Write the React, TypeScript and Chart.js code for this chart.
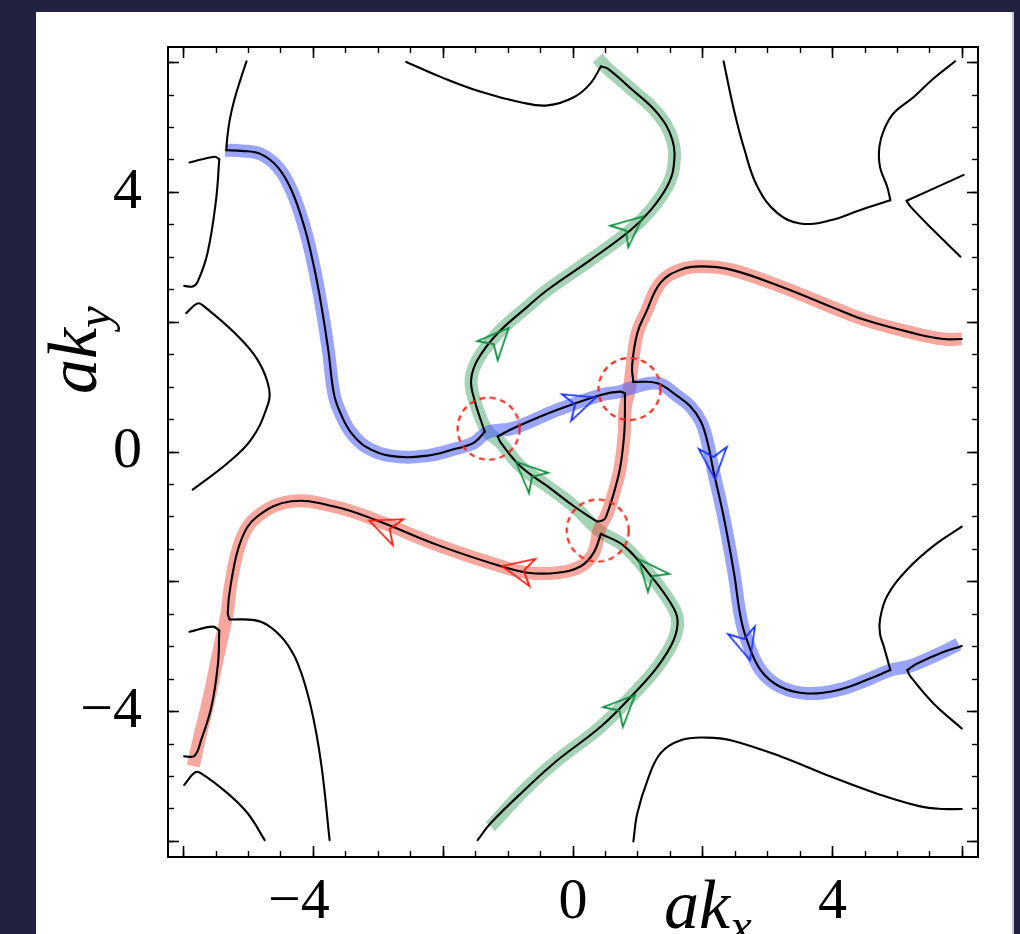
import React, { useEffect, useRef } from 'react';
import { Chart, registerables } from 'chart.js';

Chart.register(...registerables);

type P = [number, number];

// ---- axes ----
const AXIS_MIN = -6.24;
const AXIS_MAX = 6.24;
const MAJOR_TICKS = [-6, -4, -2, 0, 2, 4, 6];
const MINOR_TICKS = [-6, -5.5, -5, -4.5, -4, -3.5, -3, -2.5, -2, -1.5, -1, -0.5, 0, 0.5, 1, 1.5, 2, 2.5, 3, 3.5, 4, 4.5, 5, 5.5, 6];
const LABELED_TICKS = [-4, 0, 4];

// ---- highlighted paths ----
const BLUE_PATH: P[] = [[-5.36,4.65],[-5.11,4.64],[-4.81,4.59],[-4.55,4.39],[-4.34,4.04],[-4.14,3.47],[-3.99,2.85],[-3.88,2.27],[-3.77,1.57],[-3.68,0.88],[-3.57,0.57],[-3.42,0.30],[-3.19,0.08],[-2.81,-0.06],[-2.27,-0.06],[-1.81,0.05],[-1.53,0.14],[-1.32,0.30],[-0.91,0.37],[-0.24,0.65],[0.43,0.88],[0.73,0.93],[0.87,0.98],[1.30,1.06],[1.61,0.86],[1.81,0.70],[1.97,0.47],[2.07,0.16],[2.17,-0.32],[2.32,-0.99],[2.48,-1.86],[2.58,-2.53],[2.68,-2.90],[2.89,-3.36],[3.20,-3.62],[3.61,-3.72],[4.07,-3.67],[4.53,-3.51],[4.89,-3.36],[5.15,-3.31],[5.30,-3.26],[5.66,-3.10],[5.94,-2.96]];
const RED_PATH: P[] = [[5.99,1.74],[5.71,1.74],[5.25,1.83],[4.48,2.04],[3.97,2.24],[3.20,2.55],[2.43,2.81],[1.97,2.86],[1.66,2.81],[1.35,2.61],[1.12,2.14],[0.99,1.83],[0.91,1.32],[0.87,0.98],[0.80,0.65],[0.79,0.29],[0.73,-0.22],[0.63,-0.63],[0.53,-0.94],[0.40,-1.21],[0.32,-1.55],[0.12,-1.76],[-0.24,-1.86],[-0.70,-1.86],[-1.11,-1.76],[-2.04,-1.45],[-3.06,-1.04],[-3.68,-0.84],[-4.34,-0.76],[-4.86,-0.99],[-5.11,-1.35],[-5.27,-2.02],[-5.33,-2.49],[-5.45,-3.04],[-5.61,-3.81],[-5.76,-4.43],[-5.85,-4.84]];
const GREEN_PATH: P[] = [[-1.27,-5.77],[-0.75,-5.21],[-0.24,-4.75],[0.43,-4.23],[0.94,-3.72],[1.30,-3.31],[1.55,-2.90],[1.61,-2.58],[1.50,-2.32],[1.20,-1.91],[0.79,-1.45],[0.40,-1.21],[0.02,-0.84],[-0.39,-0.53],[-0.81,-0.22],[-1.11,0.14],[-1.32,0.32],[-1.52,0.81],[-1.57,1.11],[-1.47,1.42],[-1.16,1.83],[-0.70,2.24],[-0.39,2.50],[0.27,2.96],[0.89,3.42],[1.20,3.73],[1.45,4.09],[1.55,4.39],[1.53,4.81],[1.30,5.22],[0.89,5.60],[0.53,5.91],[0.38,6.07]];

// ---- black contour segments ----
const SEG_A: P[] = [[-5.03,6.02],[-5.11,5.78],[-5.22,5.42],[-5.29,5.11],[-5.33,4.81],[-5.34,4.65]];
const SEG_BLUE_LEFT: P[] = [[-5.34,4.65],[-5.11,4.64],[-4.81,4.59],[-4.55,4.39],[-4.34,4.04],[-4.14,3.47],[-3.99,2.85],[-3.88,2.27],[-3.77,1.57],[-3.68,0.88],[-3.57,0.57],[-3.42,0.30],[-3.19,0.08],[-2.81,-0.06],[-2.27,-0.06],[-1.81,0.05],[-1.53,0.14],[-1.36,0.31]];
const SEG_GREEN_UP: P[] = [[-1.36,0.31],[-1.52,0.81],[-1.57,1.11],[-1.47,1.42],[-1.16,1.83],[-0.70,2.24],[-0.39,2.50],[0.27,2.96],[0.89,3.42],[1.20,3.73],[1.45,4.09],[1.55,4.39],[1.53,4.81],[1.30,5.22],[0.89,5.60],[0.53,5.91],[0.43,5.94]];
const SEG_D: P[] = [[0.43,5.94],[0.27,5.68],[0.02,5.47],[-0.39,5.34],[-0.81,5.39],[-1.42,5.55],[-2.04,5.78],[-2.57,6.01]];
const TRI_TOP: P[] = [[-1.16,0.24],[-0.91,0.37],[-0.24,0.65],[0.43,0.88],[0.73,0.93],[0.80,0.90]];
const TRI_RIGHT: P[] = [[0.80,0.90],[0.80,0.65],[0.79,0.29],[0.73,-0.22],[0.63,-0.63],[0.53,-0.94],[0.48,-1.04],[0.38,-1.07],[0.32,-1.04]];
const TRI_LEFT: P[] = [[0.32,-1.04],[0.02,-0.84],[-0.39,-0.53],[-0.81,-0.22],[-1.11,0.14],[-1.16,0.24]];
const SEG_RED_UP: P[] = [[5.99,1.74],[5.71,1.74],[5.25,1.83],[4.48,2.04],[3.97,2.24],[3.20,2.55],[2.43,2.81],[1.97,2.86],[1.66,2.81],[1.35,2.61],[1.12,2.14],[0.99,1.83],[0.91,1.32],[0.93,1.08]];
const SEG_BLUE_RIGHT: P[] = [[0.93,1.08],[1.30,1.06],[1.61,0.86],[1.81,0.70],[1.97,0.47],[2.07,0.16],[2.17,-0.32],[2.32,-0.99],[2.48,-1.86],[2.58,-2.53],[2.68,-2.90],[2.89,-3.36],[3.20,-3.62],[3.61,-3.72],[4.07,-3.67],[4.53,-3.51],[4.89,-3.36]];
const SEG_G: P[] = [[4.89,-3.36],[4.79,-3.00],[4.73,-2.80],[4.73,-2.58],[4.84,-2.22],[5.15,-1.81],[5.55,-1.45],[5.99,-1.15]];
const SEG_H1: P[] = [[5.99,-2.99],[5.66,-3.10],[5.30,-3.26],[5.15,-3.36]];
const SEG_H2: P[] = [[5.15,-3.36],[5.20,-3.46],[5.55,-3.87],[5.99,-4.26]];
const SEG_K: P[] = [[-3.75,-5.98],[-3.88,-4.80],[-4.04,-3.92],[-4.24,-3.26],[-4.45,-2.90],[-4.70,-2.67],[-4.91,-2.59],[-5.29,-2.58]];
const SEG_RED_LOW: P[] = [[-5.29,-2.58],[-5.32,-2.48],[-5.27,-2.02],[-5.11,-1.35],[-4.86,-0.99],[-4.34,-0.76],[-3.68,-0.84],[-3.06,-1.04],[-2.04,-1.45],[-1.11,-1.76],[-0.70,-1.86],[-0.24,-1.86],[0.12,-1.76],[0.32,-1.55],[0.43,-1.26]];
const SEG_GREEN_LOW: P[] = [[0.43,-1.26],[0.79,-1.45],[1.20,-1.91],[1.50,-2.32],[1.61,-2.58],[1.55,-2.90],[1.30,-3.31],[0.94,-3.72],[0.43,-4.23],[-0.24,-4.75],[-0.75,-5.21],[-1.27,-5.72],[-1.47,-5.98]];
const SEG_B1: P[] = [[-5.91,4.46],[-5.52,4.55],[-5.45,4.51]];
const SEG_B2: P[] = [[-5.45,4.51],[-5.50,3.88],[-5.63,3.07],[-5.78,2.63],[-5.86,2.55],[-5.99,2.56]];
const SEG_C: P[] = [[-5.96,2.14],[-5.78,2.29],[-5.68,2.24],[-5.22,1.84],[-4.86,1.42],[-4.68,0.96],[-4.73,0.65],[-4.96,0.19],[-5.32,-0.17],[-5.86,-0.58]];
const SEG_E1: P[] = [[2.32,6.02],[2.48,5.27],[2.63,4.70],[2.84,4.09],[3.15,3.68],[3.50,3.52],[3.97,3.57],[4.43,3.73],[4.89,3.88]];
const SEG_E2: P[] = [[4.89,3.88],[4.84,4.09],[4.73,4.39],[4.72,4.70],[4.79,4.96],[4.94,5.22],[5.25,5.47],[5.55,5.75],[5.89,6.02]];
const SEG_F1: P[] = [[6.02,4.27],[5.14,3.87]];
const SEG_F2: P[] = [[5.14,3.87],[5.20,3.78],[5.55,3.42],[5.97,3.01]];
const SEG_I: P[] = [[5.99,-5.50],[5.71,-5.50],[5.35,-5.46],[4.73,-5.28],[3.97,-5.00],[3.20,-4.69],[2.43,-4.44],[2.07,-4.40],[1.66,-4.44],[1.35,-4.64],[1.15,-5.05],[0.99,-5.57],[0.93,-6.00]];
const SEG_J1: P[] = [[-5.91,-2.77],[-5.55,-2.69],[-5.45,-2.75]];
const SEG_J2: P[] = [[-5.45,-2.75],[-5.47,-3.26],[-5.57,-3.92],[-5.73,-4.44],[-5.83,-4.68],[-5.99,-4.69]];
const SEG_L: P[] = [[-5.99,-5.13],[-5.83,-4.94],[-5.73,-4.95],[-5.32,-5.26],[-5.01,-5.57],[-4.75,-5.98]];

const CONTOURS: P[][] = [SEG_A, SEG_BLUE_LEFT, SEG_GREEN_UP, SEG_D, TRI_TOP, TRI_RIGHT, TRI_LEFT, SEG_RED_UP, SEG_BLUE_RIGHT, SEG_G, SEG_H1, SEG_H2, SEG_K, SEG_RED_LOW, SEG_GREEN_LOW, SEG_B1, SEG_B2, SEG_C, SEG_E1, SEG_E2, SEG_F1, SEG_F2, SEG_I, SEG_J1, SEG_J2, SEG_L];

// ---- arrows (position, heading in degrees, counter-clockwise from +x) ----
const BLUE_ARROWS: P[] = [[0.12,0.76],[2.17,-0.17],[2.66,-2.97]];
const BLUE_HEADINGS = [19, -86, -74];
const RED_ARROWS: P[] = [[-2.91,-1.15],[-0.85,-1.81]];
const RED_HEADINGS = [158, 168];
const GREEN_ARROWS: P[] = [[0.89,3.47],[-1.16,1.73],[-0.70,-0.32],[1.17,-1.84],[0.78,-3.92]];
const GREEN_HEADINGS = [40, 47, 137, 130, 45];

// ---- dashed circles at the crossings ----
const CROSSINGS: P[] = [[-1.30,0.36],[0.87,0.97],[0.38,-1.21]];

const FONT = "'Liberation Serif', 'Times New Roman', serif";

function fmt(v: number): string {
  return v < 0 ? '\u2212' + Math.abs(v) : String(v);
}

function arrowImage(color: string): HTMLCanvasElement {
  const c = document.createElement('canvas');
  c.width = 48; c.height = 48;
  const g = c.getContext('2d')!;
  g.translate(24, 24);
  g.strokeStyle = color;
  g.lineWidth = 1.8;
  g.lineJoin = 'miter';
  g.beginPath();
  g.moveTo(16, 0);
  g.lineTo(-15, -14);
  g.lineTo(-6, 0);
  g.lineTo(-15, 14);
  g.closePath();
  g.stroke();
  return c;
}

function circleImage(color: string): HTMLCanvasElement {
  const c = document.createElement('canvas');
  c.width = 72; c.height = 72;
  const g = c.getContext('2d')!;
  g.strokeStyle = color;
  g.lineWidth = 2.2;
  g.setLineDash([6, 4.5]);
  g.beginPath();
  g.arc(36, 36, 31, 0, Math.PI * 2);
  g.stroke();
  return c;
}

export default function App() {
  const ref = useRef<HTMLCanvasElement>(null);

  useEffect(() => {
    const canvas = ref.current;
    if (!canvas) return;
    const toXY = (pts: P[]) => pts.map(([x, y]) => ({ x, y }));

    const band = (pts: P[], color: string) => ({
      data: toXY(pts), showLine: true, borderColor: color, borderWidth: 13,
      pointRadius: 0, tension: 0.4, order: 4, borderCapStyle: 'butt', borderJoinStyle: 'round',
    });
    const contour = (pts: P[]) => ({
      data: toXY(pts), showLine: true, borderColor: '#000', borderWidth: 2.1,
      pointRadius: 0, tension: 0.4, order: 3, borderCapStyle: 'round', borderJoinStyle: 'round',
    });
    const arrows = (pts: P[], headings: number[], color: string) => ({
      data: toXY(pts), showLine: false, pointStyle: arrowImage(color), pointRadius: 10,
      pointRotation: headings.map((h) => -h), order: 2,
    });

    const datasets: any[] = [
      band(BLUE_PATH, 'rgba(70,90,245,0.55)'),
      band(RED_PATH, 'rgba(240,60,40,0.45)'),
      band(GREEN_PATH, 'rgba(40,150,80,0.42)'),
      ...CONTOURS.map(contour),
      arrows(BLUE_ARROWS, BLUE_HEADINGS, '#1530ff'),
      arrows(RED_ARROWS, RED_HEADINGS, '#f21a0c'),
      arrows(GREEN_ARROWS, GREEN_HEADINGS, '#0a8a3c'),
      { data: toXY(CROSSINGS), showLine: false, pointStyle: circleImage('#ee2a1e'), pointRadius: 10, order: 1 },
    ];

    const setMajor = (s: any) => { s.ticks = MAJOR_TICKS.map((v) => ({ value: v })); };
    const setMinor = (s: any) => { s.ticks = MINOR_TICKS.map((v) => ({ value: v })); };
    const fixSize = (w: number | null, h: number | null) => (s: any) => {
      if (w !== null) s.width = w;
      if (h !== null) s.height = h;
      s.paddingTop = 0; s.paddingBottom = 0; s.paddingLeft = 0; s.paddingRight = 0;
    };
    const majorGrid = { drawOnChartArea: false, drawTicks: true, tickLength: -11, tickWidth: 1.6, tickColor: '#000' };
    const minorGrid = { drawOnChartArea: false, drawTicks: true, tickLength: -6, tickWidth: 1.4, tickColor: '#000' };
    const frame = { display: true, color: '#000', width: 2 };
    const base = { type: 'linear', min: AXIS_MIN, max: AXIS_MAX };

    const chart = new Chart(canvas, {
      type: 'scatter',
      data: { datasets },
      options: {
        responsive: false,
        animation: false,
        events: [],
        layout: { padding: { left: 0, right: 42, top: 47, bottom: 0 } },
        plugins: { legend: { display: false }, tooltip: { enabled: false } },
        scales: {
          x: {
            ...base, position: 'bottom', weight: 1,
            afterBuildTicks: setMajor,
            afterFit: fixSize(null, 77),
            grid: majorGrid, border: frame,
            ticks: {
              autoSkip: false, maxRotation: 0, minRotation: 0, padding: 22, color: '#000',
              font: { family: FONT, size: 58 },
              callback: (v: any) => (LABELED_TICKS.includes(Number(v)) ? fmt(Number(v)) + (Number(v) < 0 ? '\u2002' : '') : ''),
            },
          },
          xm: {
            ...base, position: 'bottom', weight: 0,
            afterBuildTicks: setMinor, afterFit: fixSize(null, 0),
            grid: minorGrid, border: { display: false }, ticks: { display: false },
          },
          xt: {
            ...base, position: 'top', weight: 1,
            afterBuildTicks: setMajor, afterFit: fixSize(null, 0),
            grid: majorGrid, border: frame, ticks: { display: false },
          },
          xtm: {
            ...base, position: 'top', weight: 0,
            afterBuildTicks: setMinor, afterFit: fixSize(null, 0),
            grid: minorGrid, border: { display: false }, ticks: { display: false },
          },
          y: {
            ...base, position: 'left', weight: 1,
            afterBuildTicks: setMajor,
            afterFit: fixSize(168, null),
            grid: majorGrid, border: frame,
            ticks: {
              autoSkip: false, padding: 37, color: '#000',
              font: { family: FONT, size: 58 },
              callback: (v: any) => (LABELED_TICKS.includes(Number(v)) ? fmt(Number(v)) : ''),
            },
          },
          ym: {
            ...base, position: 'left', weight: 0,
            afterBuildTicks: setMinor, afterFit: fixSize(0, null),
            grid: minorGrid, border: { display: false }, ticks: { display: false },
          },
          yr: {
            ...base, position: 'right', weight: 1,
            afterBuildTicks: setMajor, afterFit: fixSize(0, null),
            grid: majorGrid, border: frame, ticks: { display: false },
          },
          yrm: {
            ...base, position: 'right', weight: 0,
            afterBuildTicks: setMinor, afterFit: fixSize(0, null),
            grid: minorGrid, border: { display: false }, ticks: { display: false },
          },
        },
      } as any,
    });
    return () => chart.destroy();
  }, []);

  const titleStyle: React.CSSProperties = {
    position: 'absolute', fontFamily: FONT, fontStyle: 'italic', fontSize: 70,
    lineHeight: 1, whiteSpace: 'nowrap', color: '#000',
  };
  const subStyle: React.CSSProperties = { fontSize: '0.7em', position: 'relative', top: '0.28em' };

  return (
    <div style={{ position: 'absolute', left: 0, top: 0, width: 1020, height: 934, background: '#222240', overflow: 'hidden' }}>
      <div style={{ position: 'absolute', left: 36, top: 12, width: 976, height: 930, background: '#ffffff', borderRight: '2px solid #c4c4cf' }} />
      <canvas ref={ref} width={1020} height={934} style={{ position: 'absolute', left: 0, top: 0, width: 1020, height: 934 }} />
      <div style={{ ...titleStyle, left: 38, top: 394, transformOrigin: '0 0', transform: 'rotate(-90deg)' }}>
        ak<span style={subStyle}>y</span>
      </div>
      <div style={{ ...titleStyle, left: 664, top: 870 }}>
        ak<span style={subStyle}>x</span>
      </div>
    </div>
  );
}
